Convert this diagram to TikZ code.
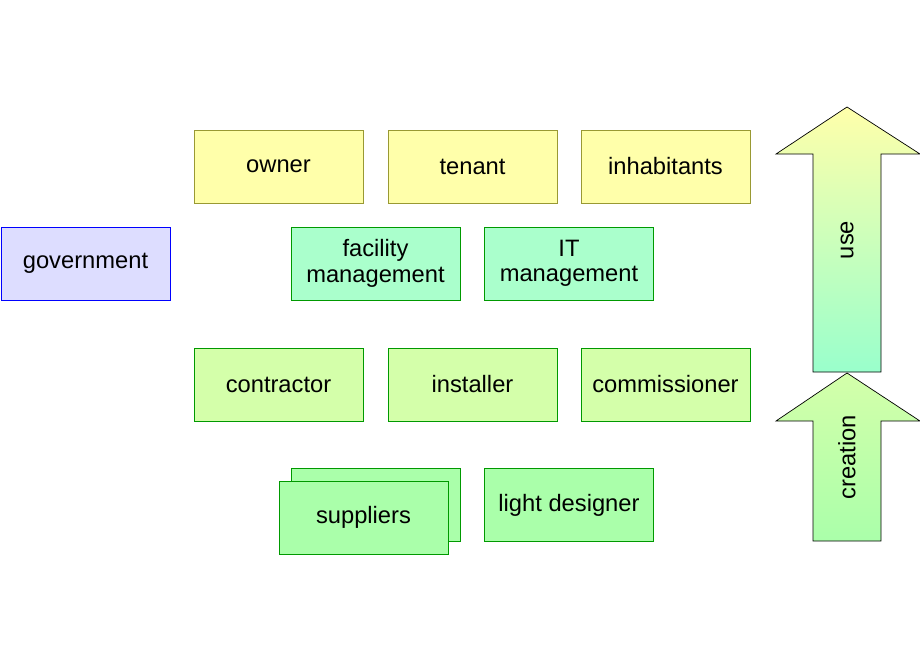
\documentclass[tikz,border=0pt]{standalone}
\usepackage{fontspec}
\setmainfont{Liberation Sans}
\usetikzlibrary{positioning}
\definecolor{yellowfill}{HTML}{FFFFAA}
\definecolor{yellowdraw}{HTML}{999933}
\definecolor{mintfill}{HTML}{AAFFCC}
\definecolor{limefill}{HTML}{D4FFAA}
\definecolor{greenfill}{HTML}{AAFFAA}
\definecolor{greendraw}{HTML}{009900}
\definecolor{govfill}{HTML}{DDDDFF}
\definecolor{usebottom}{HTML}{99FFCC}
\tikzset{
  box/.style={minimum width=3.38cm, minimum height=1.46cm, inner sep=0pt,
    align=center, font=\fontsize{13.5}{14.5}\selectfont},
  owners/.style={box, fill=yellowfill, draw=yellowdraw},
  managers/.style={box, fill=mintfill, draw=greendraw},
  builders/.style={box, fill=limefill, draw=greendraw},
  makers/.style={box, fill=greenfill, draw=greendraw},
  gov/.style={box, fill=govfill, draw=blue},
  bigarrow/.style={draw=black, line join=miter}
}
\begin{document}
\begin{tikzpicture}[x=0.02cm, y=-0.02cm]
    \useasboundingbox (0, 0) rectangle (920, 660);
    % stakeholders
    \node [owners] (owner) at (278.5, 166.5) {owner};
    \node [owners] (tenant) at (472.5, 166.5) {tenant};
    \node [owners] (inhabitants) at (665.5, 166.5) {inhabitants};
    \node [gov] (government) at (85.5, 263.5) {government};
    \node [managers] (facility) at (375.5, 263.5) {facility\\management};
    \node [managers] (itman) at (569, 263.5) {IT\\management};
    \node [builders] (contractor) at (278.5, 384.5) {contractor};
    \node [builders] (installer) at (472.5, 384.5) {installer};
    \node [builders] (commissioner) at (665.5, 384.5) {commissioner};
    \node [makers] (supplierback) at (375.5, 505) {};
    \node [makers] (suppliers) at (363.5, 517.5) {suppliers};
    \node [makers] (designer) at (569, 505) {light designer};
    % phase arrows
    \draw [bigarrow, top color=yellowfill, bottom color=usebottom]
        (847, 107) -- (920, 154) -- (881, 154) -- (881, 372)
        -- (813, 372) -- (813, 154) -- (776, 154) -- cycle;
    \draw [bigarrow, top color=limefill, bottom color=greenfill]
        (847, 373) -- (920, 421) -- (881, 421) -- (881, 541)
        -- (813, 541) -- (813, 421) -- (776, 421) -- cycle;
    \node [rotate=90, font=\fontsize{13.5}{14.5}\selectfont] (use) at (847, 240) {use};
    \node [rotate=90, font=\fontsize{13.5}{14.5}\selectfont] (creation) at (847, 457) {creation};
\end{tikzpicture}
\end{document}
